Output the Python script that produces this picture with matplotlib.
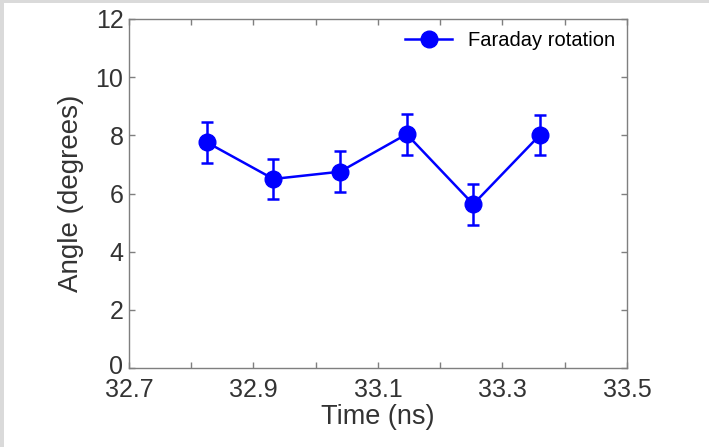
import matplotlib
matplotlib.use("Agg")
import matplotlib.pyplot as plt
import matplotlib.transforms as mtransforms
from matplotlib.patches import Rectangle
from matplotlib.lines import Line2D
from matplotlib.ticker import MultipleLocator

# Data
time_ns = [32.825, 32.932, 33.039, 33.146, 33.253, 33.360]
angle_deg = [7.76, 6.50, 6.75, 8.04, 5.63, 8.01]
angle_err = [0.70, 0.70, 0.70, 0.70, 0.70, 0.70]
x_ticks = [32.7, 32.9, 33.1, 33.3, 33.5]
y_ticks = [0, 2, 4, 6, 8, 10, 12]

plt.rcParams["font.family"] = ["Liberation Sans", "DejaVu Sans"]
text_color = "#333333"
spine_color = "#7f7f7f"
blue = "#0000ff"

fig = plt.figure(figsize=(7.09, 4.47), dpi=100)
fig.patch.set_facecolor("white")
# light gray frame strips at top and left
fig.patches.append(Rectangle((0, 1 - 3 / 447), 1, 3 / 447, transform=fig.transFigure,
                             facecolor="#dadada", edgecolor="none", zorder=0))
fig.patches.append(Rectangle((0, 0), 4 / 709, 1, transform=fig.transFigure,
                             facecolor="#dadada", edgecolor="none", zorder=0))

ax = fig.add_axes([129 / 709, 1 - 368 / 447, 498 / 709, 349 / 447])

ax.errorbar(time_ns, angle_deg, yerr=angle_err, color=blue, marker="o",
            markersize=12, linewidth=1.8, elinewidth=1.8, capsize=4, capthick=1.8)

ax.set_xlim(32.7, 33.5)
ax.set_ylim(0, 12)
ax.set_xticks(x_ticks)
ax.xaxis.set_minor_locator(MultipleLocator(0.1))
ax.set_yticks(y_ticks)
ax.tick_params(which="both", direction="in", top=True, right=True, color=spine_color,
               labelcolor=text_color, labelsize=18, width=1, length=4)
ax.tick_params(axis="x", which="major", pad=7)
ax.tick_params(axis="y", which="major", pad=4)
for s in ax.spines.values():
    s.set_color(spine_color)
    s.set_linewidth(1)

# lift the "0" label a little so it clears the 32.7 label, as in the original
fig.canvas.draw()
lift = mtransforms.ScaledTranslation(0, 4 / 100, fig.dpi_scale_trans)
zero_label = ax.get_yticklabels()[0]
zero_label.set_transform(zero_label.get_transform() + lift)

ax.set_xlabel("Time (ns)", fontsize=19.5, color=text_color, labelpad=2)
ax.set_ylabel("Angle (degrees)", fontsize=20, color=text_color, labelpad=8)

handle = Line2D([], [], color=blue, marker="o", markersize=12, linewidth=1.8)
leg = ax.legend([handle], ["Faraday rotation"], loc="upper right", frameon=False,
                fontsize=14.5, handlelength=2.3, borderaxespad=0.2, handletextpad=0.8)
for t in leg.get_texts():
    t.set_color("black")

fig.savefig("out.png", dpi=100)
